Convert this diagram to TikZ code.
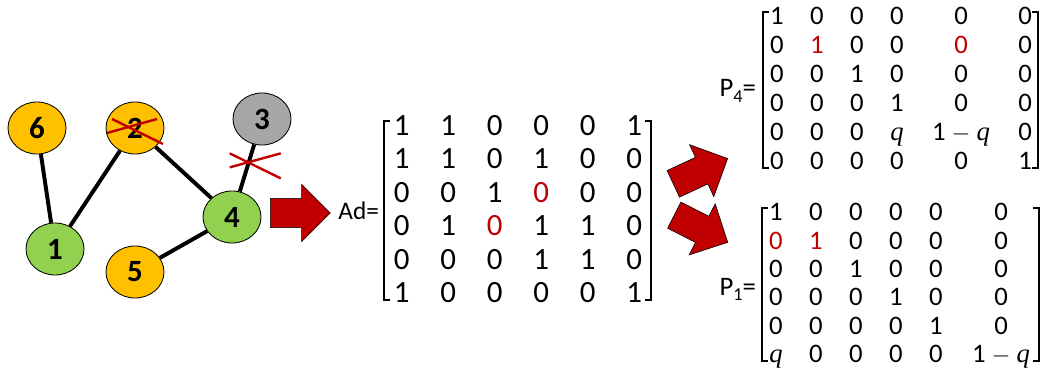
\documentclass[tikz,border=0pt]{standalone}
\usepackage{fontspec}
\setmainfont{Carlito}
\newfontfamily\qfont{Liberation Serif}
\usepackage{tikz}
\usetikzlibrary{shapes.geometric,shapes.arrows,calc,matrix}
\definecolor{nodeyellow}{HTML}{FFC000}
\definecolor{nodegreen}{HTML}{92D050}
\definecolor{nodegray}{HTML}{A6A6A6}
\definecolor{darkred}{HTML}{C00000}
\newcommand{\lowsub}[1]{\raisebox{-0.4ex}{\fontsize{13}{13}\selectfont #1}}
\newcommand{\qq}{{\qfont\itshape q}}

\begin{document}
\begin{tikzpicture}[
        x=0.025cm, y=-0.025cm,
        vertex/.style={ellipse, draw, line width=0.6pt, minimum width=1.45cm, minimum height=1.3cm,
            font=\fontsize{22}{22}\selectfont\bfseries},
        edge/.style={line width=2.8pt},
        cut/.style={darkred, line width=1.7pt},
        bigarrow/.style={single arrow, draw, line width=0.4pt, fill=darkred, inner xsep=0pt,
            inner ysep=0.36cm, single arrow head extend=0.35cm, minimum height=1.5cm},
        mat/.style={matrix of nodes, inner sep=0pt, row sep=#1,
            nodes={inner sep=0pt, minimum width=1cm}},
        big/.style={font=\fontsize{22}{22}\selectfont,
            nodes={text height=16pt, text depth=3pt, minimum width=1.1625cm}},
        small/.style={font=\fontsize{19}{19}\selectfont,
            nodes={text height=14pt, text depth=3pt}},
        hl/.style={text=darkred},
        brack/.style={line width=1.5pt}
    ]
        \useasboundingbox (0,0) rectangle (1045,374);

        % Graph
        \node[vertex, fill=nodeyellow] (n6) at (37,128) {6};
        \node[vertex, fill=nodeyellow] (n2) at (135,128) {2};
        \node[vertex, fill=nodegray] (n3) at (262,119) {3};
        \node[vertex, fill=nodegreen] (n4) at (232,217) {4};
        \node[vertex, fill=nodegreen] (n1) at (55,249) {1};
        \node[vertex, fill=nodeyellow] (n5) at (135,272) {5};

        \draw[edge] (n6) -- (n1);
        \draw[edge] (n1) -- (n2);
        \draw[edge] (n2) -- (n4);
        \draw[edge] (n4) -- coordinate[pos=0.62] (cut34) (n3);
        \draw[edge] (n4) -- (n5);

        % Removed node and removed link
        \draw[cut] ($(n2)+(-28,5)$) -- ($(n2)+(22,-9)$);
        \draw[cut] ($(n2)+(-23,-9)$) -- ($(n2)+(28,16)$);
        \draw[cut] ($(cut34)+(-19,5)$) -- ($(cut34)+(32,-9)$);
        \draw[cut] ($(cut34)+(-19,-9)$) -- ($(cut34)+(32,16)$);

        % Block arrows
        \node[bigarrow, anchor=tail] (toad) at (270,213) {};
        \node[bigarrow, anchor=tail, rotate=25] (topfour) at (673,184) {};
        \node[bigarrow, anchor=tail, rotate=-27] (topone) at (674,215) {};

        % Matrices
        \matrix[mat=4.8pt, big] (adj) at (518,210) {
            1 & 1 & 0 & 0 & 0 & 1 \\
            1 & 1 & 0 & 1 & 0 & 0 \\
            0 & 0 & 1 & |[hl]| 0 & 0 & 0 \\
            0 & 1 & |[hl]| 0 & 1 & 1 & 0 \\
            0 & 0 & 0 & 1 & 1 & 0 \\
            1 & 0 & 0 & 0 & 0 & 1 \\
        };
        \matrix[mat=3.6pt, small, column 5/.style={nodes={minimum width=2.2cm}}] (pfour) at (901,89.5) {
            1 & 0 & 0 & 0 & 0 & 0 \\
            0 & |[hl]| 1 & 0 & 0 & |[hl]| 0 & 0 \\
            0 & 0 & 1 & 0 & 0 & 0 \\
            0 & 0 & 0 & 1 & 0 & 0 \\
            0 & 0 & 0 & \qq & 1 $-$ \qq & 0 \\
            0 & 0 & 0 & 0 & 0 & 1 \\
        };
        \matrix[mat=3.2pt, small, column 6/.style={nodes={minimum width=2.25cm}}] (pone) at (901,284) {
            1 & 0 & 0 & 0 & 0 & 0 \\
            |[hl]| 0 & |[hl]| 1 & 0 & 0 & 0 & 0 \\
            0 & 0 & 1 & 0 & 0 & 0 \\
            0 & 0 & 0 & 1 & 0 & 0 \\
            0 & 0 & 0 & 0 & 1 & 0 \\
            \qq & 0 & 0 & 0 & 0 & 1 $-$ \qq \\
        };

        \foreach \m in {adj,pfour,pone} {
            \draw[brack] ($(\m.west |- \m-1-1.center)+(12,-5)$) -- ++(-6,0) |- ($(\m.west |- \m-6-1.center)+(12,6)$);
            \draw[brack] ($(\m.east |- \m-1-1.center)+(-13,-5)$) -- ++(6,0) |- ($(\m.east |- \m-6-1.center)+(-13,6)$);
        }

        % Matrix names
        \node[anchor=base east, font=\fontsize{18}{18}\selectfont] (adname) at (384,219) {Ad=};
        \node[anchor=base east, font=\fontsize{19}{19}\selectfont] (pfourname) at (761,97) {P\lowsub{4}=};
        \node[anchor=base east, font=\fontsize{19}{19}\selectfont] (ponename) at (761,295) {P\lowsub{1}=};
    \end{tikzpicture}
\end{document}
